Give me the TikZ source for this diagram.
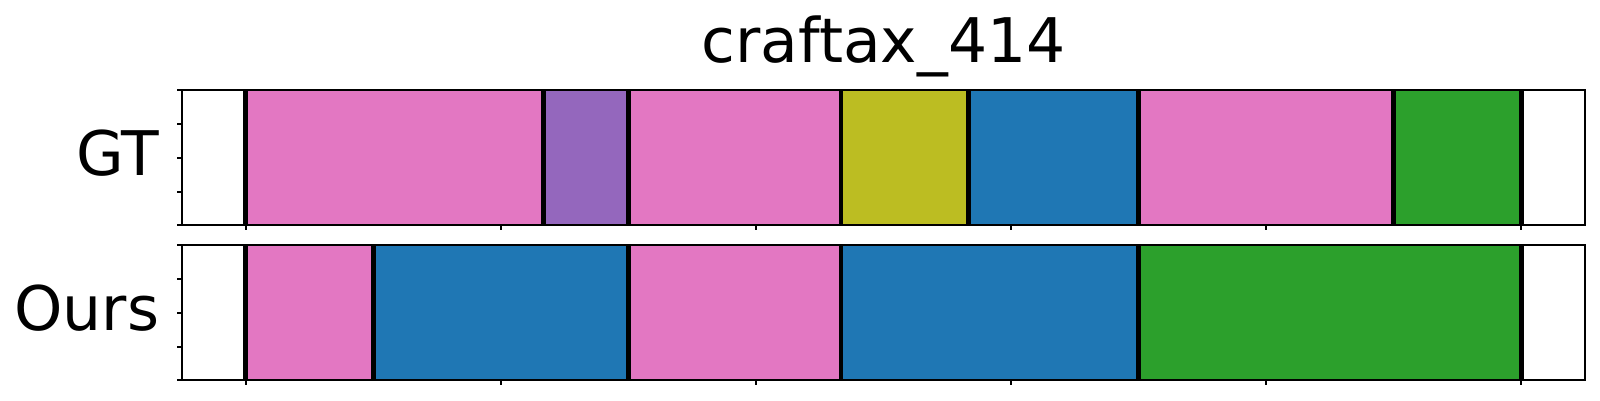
\documentclass[tikz,border=0pt]{standalone}
\usepackage{fontspec}
\setmainfont{DejaVu Sans}
\usepackage{tikz}
\definecolor{tabpink}{HTML}{E377C2}
\definecolor{tabpurple}{HTML}{9467BD}
\definecolor{tabolive}{HTML}{BCBD22}
\definecolor{tabblue}{HTML}{1F77B4}
\definecolor{tabgreen}{HTML}{2CA02C}
\tikzset{
    label/.style={inner sep=0pt, font=\fontsize{17.5}{20}\selectfont},
    frame/.style={line width=0.6pt},
    cut/.style={line width=1.4pt}
}

\begin{document}
\begin{tikzpicture}
        \useasboundingbox (0,0) rectangle (16,4);
        \node [label, anchor=base] (title) at (8.835,3.373) {craftax\_414};
        \node [label, anchor=base east] (gt) at (1.60,2.25) {GT};
        \node [label, anchor=base east] (ours) at (1.60,0.70) {Ours};

        % GT row
        \begin{scope}[shift={(2.457,1.747)}, x=0.4252cm, y=1.35cm]
        \draw [fill=tabpink, draw=none] (0,0) rectangle (7,1);
        \draw [fill=tabpurple, draw=none] (7,0) rectangle (9,1);
        \draw [fill=tabpink, draw=none] (9,0) rectangle (14,1);
        \draw [fill=tabolive, draw=none] (14,0) rectangle (17,1);
        \draw [fill=tabblue, draw=none] (17,0) rectangle (21,1);
        \draw [fill=tabpink, draw=none] (21,0) rectangle (27,1);
        \draw [fill=tabgreen, draw=none] (27,0) rectangle (30,1);
        \foreach \t in {0,7,9,14,17,21,27,30}
            \draw [cut] (\t,0) -- (\t,1);
        \draw [frame] (-1.5,0) rectangle (31.5,1);
        \foreach \t in {0,6,...,30}
            \draw [frame] (\t,0) -- ++(0,-0.045cm);
        \foreach \v in {0,0.25,...,1}
            \draw [frame] (-1.5,\v) -- ++(-0.05cm,0);
        \end{scope}

        % Ours row
        \begin{scope}[shift={(2.457,0.197)}, x=0.4252cm, y=1.35cm]
        \draw [fill=tabpink, draw=none] (0,0) rectangle (3,1);
        \draw [fill=tabblue, draw=none] (3,0) rectangle (9,1);
        \draw [fill=tabpink, draw=none] (9,0) rectangle (14,1);
        \draw [fill=tabblue, draw=none] (14,0) rectangle (21,1);
        \draw [fill=tabgreen, draw=none] (21,0) rectangle (30,1);
        \foreach \t in {0,3,9,14,21,30}
            \draw [cut] (\t,0) -- (\t,1);
        \draw [frame] (-1.5,0) rectangle (31.5,1);
        \foreach \t in {0,6,...,30}
            \draw [frame] (\t,0) -- ++(0,-0.045cm);
        \foreach \v in {0,0.25,...,1}
            \draw [frame] (-1.5,\v) -- ++(-0.05cm,0);
        \end{scope}
\end{tikzpicture}
\end{document}
